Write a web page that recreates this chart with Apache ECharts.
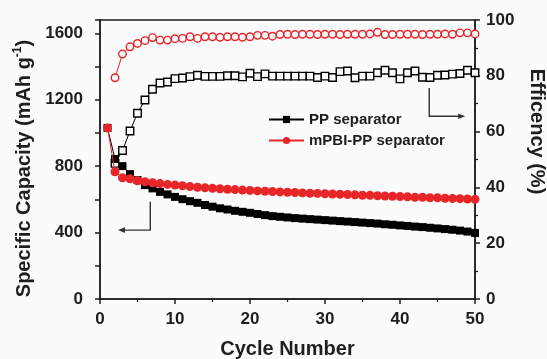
<!DOCTYPE html>
<html>
<head>
<meta charset="utf-8">
<script src="https://cdn.jsdelivr.net/npm/echarts@6/dist/echarts.min.js"></script>
<style>
html,body{margin:0;padding:0;background:#fbfbfc;}
#main{width:547px;height:359px;}
</style>
</head>
<body>
<div id="main"></div>
<script>
// ---- data ----
var cycles = [1,2,3,4,5,6,7,8,9,10,11,12,13,14,15,16,17,18,19,20,21,22,23,24,25,26,27,28,29,30,31,32,33,34,35,36,37,38,39,40,41,42,43,44,45,46,47,48,49,50];
var ppCapacity = [1030,843,800,752,716,686,666,645,630,615,601,589,579,566,556,546,539,531,525,519,512,505,499,495,491,487,484,481,478,475,472,469,466,463,460,457,454,450,447,443,440,436,433,429,425,421,417,412,406,398];
var mpbiCapacity = [1030,766,730,724,712,706,700,695,690,686,682,677,673,670,667,664,661,659,656,654,651,649,647,645,643,641,639,637,636,634,632,631,629,627,625,624,622,620,619,617,615,613,612,610,609,607,605,604,602,600];
var ppEfficiency = [null,48.6,53.2,60.2,66.6,71.3,75.2,77.4,77.8,79.0,79.2,79.7,80.2,79.8,79.8,79.8,80.0,80.0,79.6,80.9,79.7,80.7,79.9,79.9,79.9,79.9,79.9,79.9,79.4,79.9,79.4,81.5,81.7,79.3,79.9,79.9,81.1,82.0,81.1,78.9,81.1,81.7,79.5,79.4,80.2,80.3,80.6,80.8,82.0,81.1];
var mpbiEfficiency = [null,79.3,87.8,90.4,91.6,92.6,93.7,92.8,92.8,93.3,93.4,94.0,93.4,94.0,94.0,93.8,94.0,94.0,93.8,94.0,94.5,94.5,94.2,94.8,94.9,94.8,94.9,94.9,94.8,94.9,94.9,94.8,94.9,94.9,94.9,95.0,95.6,94.8,94.8,94.9,94.9,94.9,94.8,94.9,94.9,95.0,94.9,95.4,95.4,95.0];
var seriesNames = ['PP separator','mPBI-PP separator'];
var xTicks = {min:0, max:50, interval:10};
var leftTicks = {min:0, max:1680, interval:200, labelStep:400, labelMax:1600};
var rightTicks = {min:0, max:100, interval:20};
var arrowLeft = [[6.7,585],[6.7,415],[2.4,415]];
var arrowRight = [[43.9,1270],[43.9,1100],[48.7,1100]];

function zip(xs, ys){ var out=[]; for(var i=0;i<xs.length;i++){ out.push([xs[i], ys[i]]); } return out; }

var FONT = 'Liberation Sans, Arial, Helvetica, sans-serif';
var TXT = '#1e1e1e';
var AX = '#1e1e1e';
var RED = '#e8262a';
var BG = '#fbfbfc';

var chart = echarts.init(document.getElementById('main'), null, {renderer:'canvas'});
var option = {
  backgroundColor: BG,
  animation: false,
  textStyle: {fontFamily: FONT},
  grid: {left:100, right:72, top:20, bottom:60, containLabel:false, outerBoundsMode:'none',
         show:true, borderColor:AX, borderWidth:1.5, backgroundColor:'transparent'},
  legend: {
    data: seriesNames,
    orient: 'vertical',
    left: 263, top: 107,
    itemWidth: 35, itemHeight: 9, itemGap: 6,
    textStyle: {fontFamily: FONT, fontWeight:'bold', fontSize:15, color:TXT}
  },
  xAxis: {
    type:'value', min:xTicks.min, max:xTicks.max, interval:xTicks.interval,
    name:'Cycle Number', nameLocation:'middle', nameGap:40,
    nameTextStyle:{fontFamily:FONT, fontWeight:'bold', fontSize:20, color:TXT},
    axisLine:{show:true, onZero:false, lineStyle:{color:AX, width:1.5}},
    axisTick:{show:true, inside:false, length:5, lineStyle:{color:AX, width:1.5}},
    minorTick:{show:true, splitNumber:2, length:3, lineStyle:{color:AX, width:1.2}},
    splitLine:{show:false},
    axisLabel:{fontFamily:FONT, fontWeight:'bold', fontSize:17, color:TXT, margin:12}
  },
  yAxis: [{
    type:'value', min:leftTicks.min, max:leftTicks.max, interval:leftTicks.interval,
    name:'{a|Specific Capacity (mAh g}{s|-1}{a|)}', nameLocation:'middle', nameGap:66, nameRotate:90,
    nameTextStyle:{fontFamily:FONT, fontWeight:'bold', fontSize:20, color:TXT, padding:[0,18,0,0],
      rich:{a:{fontFamily:FONT, fontWeight:'bold', fontSize:20, color:TXT, lineHeight:22, verticalAlign:'bottom'},
            s:{fontFamily:FONT, fontWeight:'bold', fontSize:12, color:TXT, lineHeight:22, verticalAlign:'top'}}},
    axisLine:{show:true, lineStyle:{color:AX, width:1.5}},
    axisTick:{show:true, inside:false, length:5, lineStyle:{color:AX, width:1.5}},
    splitLine:{show:false},
    axisLabel:{fontFamily:FONT, fontWeight:'bold', fontSize:17, color:TXT, margin:17,
      formatter:function(v){ return (v % leftTicks.labelStep === 0 && v <= leftTicks.labelMax) ? String(v) : ''; }}
  },{
    type:'value', position:'right', min:rightTicks.min, max:rightTicks.max, interval:rightTicks.interval,
    name:'Efficency (%)', nameLocation:'middle', nameGap:52, nameRotate:-90,
    nameTextStyle:{fontFamily:FONT, fontWeight:'bold', fontSize:20, color:TXT, padding:[0,56,0,0]},
    axisLine:{show:true, lineStyle:{color:AX, width:1.5}},
    axisTick:{show:true, inside:false, length:5, lineStyle:{color:AX, width:1.5}},
    minorTick:{show:true, splitNumber:2, length:3, lineStyle:{color:AX, width:1.2}},
    splitLine:{show:false},
    axisLabel:{fontFamily:FONT, fontWeight:'bold', fontSize:17, color:TXT, margin:11}
  }],
  series: [
    {name:'PP efficiency', type:'line', yAxisIndex:1, data:zip(cycles, ppEfficiency),
     symbol:'rect', symbolSize:7.5, connectNulls:false,
     itemStyle:{color:BG, borderColor:'#000', borderWidth:1.4},
     lineStyle:{color:'#000', width:1}, z:3},
    {name:'mPBI-PP efficiency', type:'line', yAxisIndex:1, data:zip(cycles, mpbiEfficiency),
     symbol:'circle', symbolSize:7.5,
     itemStyle:{color:BG, borderColor:RED, borderWidth:1.4},
     lineStyle:{color:RED, width:1}, z:3},
    {name:seriesNames[0], type:'line', yAxisIndex:0, data:zip(cycles, ppCapacity),
     symbol:'rect', symbolSize:8,
     itemStyle:{color:'#000'}, lineStyle:{color:'#000', width:1}, z:4},
    {name:seriesNames[1], type:'line', yAxisIndex:0, data:zip(cycles, mpbiCapacity),
     symbol:'circle', symbolSize:9,
     itemStyle:{color:RED}, lineStyle:{color:RED, width:1}, z:5}
  ]
};
chart.setOption(option);

function arrowGraphics(pts){
  var px = pts.map(function(p){ return chart.convertToPixel({xAxisIndex:0, yAxisIndex:0}, p); });
  var n = px.length, a = px[n-2], b = px[n-1];
  var dx = b[0]-a[0], dy = b[1]-a[1], len = Math.sqrt(dx*dx+dy*dy); dx/=len; dy/=len;
  var hl = 7, hw = 2.8;
  var base = [b[0]-dx*hl, b[1]-dy*hl];
  var tri = [[b[0],b[1]],[base[0]-dy*hw, base[1]+dx*hw],[base[0]+dy*hw, base[1]-dx*hw]];
  var linePts = px.slice(0, n-1).concat([[base[0]+dx*1, base[1]+dy*1]]);
  return [
    {type:'polyline', shape:{points:linePts}, style:{stroke:'#333', lineWidth:1.4, fill:null}, z:10},
    {type:'polygon', shape:{points:tri}, style:{fill:'#333'}, z:10}
  ];
}
chart.setOption({graphic: arrowGraphics(arrowLeft).concat(arrowGraphics(arrowRight))});
</script>
</body>
</html>
